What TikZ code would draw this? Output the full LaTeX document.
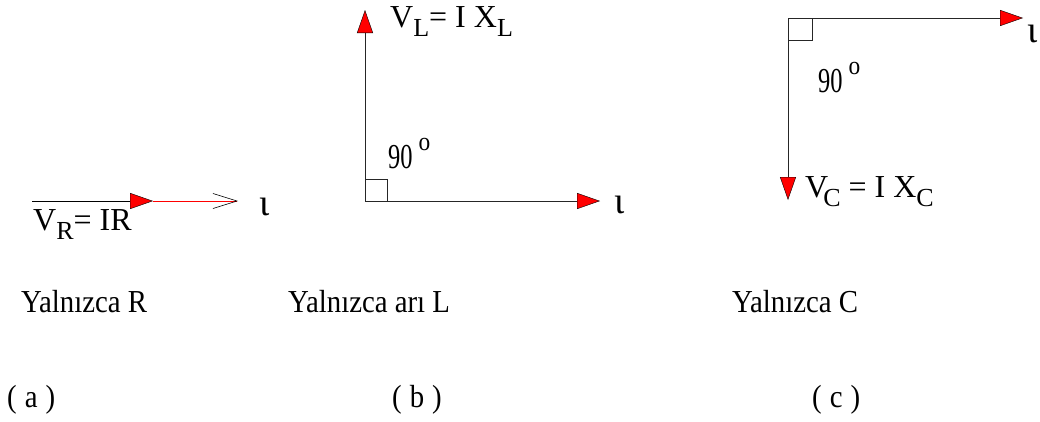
\documentclass[tikz,border=0pt]{standalone}
\usepackage{fontspec}
\setmainfont{Liberation Serif}
\newfontfamily\captionfont{Liberation Serif}[FakeStretch=0.9]
\newfontfamily\narrowfont{Liberation Serif}[FakeStretch=0.7]
\usepackage{tikz}
\usetikzlibrary{arrows.meta, positioning}
\newcommand{\lowsub}[1]{\raisebox{-9pt}{\fontsize{26}{26}\selectfont #1}}
\newcommand{\degsign}{\raisebox{18pt}{\captionfont\fontsize{26}{26}\selectfont o}}
\tikzset{
    % Text styles
    label text/.style={
        inner sep=0pt,
        anchor=base west,
        font=\captionfont\fontsize{32}{38}\selectfont
    },
    formula text/.style={
        inner sep=0pt,
        anchor=base west,
        font=\fontsize{32}{38}\selectfont
    },
    angle text/.style={
        inner sep=0pt,
        anchor=base west,
        font=\narrowfont\fontsize{35}{38}\selectfont
    },
    iota text/.style={
        inner sep=0pt,
        anchor=base west,
        font=\fontsize{38}{40}\selectfont
    },
    % Phasor arrows
    phasor/.style={
        -{Triangle[length=23pt,width=16pt,fill=red,color=black,line width=0.4pt]},
        line width=0.8pt,
        black!85
    },
    plain phasor/.style={
        -{Straight Barb[length=24pt,width=15pt,color=black,line width=0.6pt]},
        line width=0.6pt,
        red
    },
    right angle/.style={
        line width=0.6pt,
        black!85
    }
}
\begin{document}
\begin{tikzpicture}[x=1pt, y=-1pt]
        \useasboundingbox (0,0) rectangle (1040,421);

        % Only R
        \coordinate (aO) at (32,201);
        \coordinate (aM) at (153,201);
        \coordinate (aI) at (238,201);
        \draw[phasor, black] (aO) -- (aM);
        \draw[plain phasor] (aM) -- (aI);
        \node[formula text] (vR) at (33,230) {V\lowsub{R}= IR};
        \node[iota text] (iotaA) at (259,215) {ι};

        % Only L
        \coordinate (bO) at (365,201);
        \coordinate (bV) at (365,10);
        \coordinate (bI) at (600,201);
        \draw[right angle] (bO) rectangle +(22,-22);
        \draw[phasor] (bO) -- (bV);
        \draw[phasor] (bO) -- (bI);
        \node[formula text] (vL) at (390,27) {V\lowsub{L}= I X\lowsub{L}};
        \node[angle text] (angB) at (388,168) {90\hspace{6pt}\degsign};
        \node[iota text] (iotaB) at (614,213) {ι};

        % Only C
        \coordinate (cO) at (788,18);
        \coordinate (cI) at (1023,18);
        \coordinate (cV) at (788,200);
        \draw[right angle] (cO) rectangle +(24,22);
        \draw[phasor] (cO) -- (cI);
        \draw[phasor] (cO) -- (cV);
        \node[formula text] (vC) at (805,197) {V\kern-5pt\lowsub{C} = I X\lowsub{C}};
        \node[angle text] (angC) at (818,92) {90\hspace{6pt}\degsign};
        \node[iota text] (iotaC) at (1027,42) {ι};

        % Captions
        \node[label text] (capA) at (21,312) {Yalnızca R};
        \node[label text] (capB) at (288,312) {Yalnızca arı L};
        \node[label text] (capC) at (732,312) {Yalnızca C};
        \node[label text] (partA) at (7,407) {(\hspace{8pt}a\hspace{8pt})};
        \node[label text] (partB) at (392,407) {(\hspace{8pt}b\hspace{8pt})};
        \node[label text] (partC) at (812,407) {(\hspace{8pt}c\hspace{8pt})};
    \end{tikzpicture}
\end{document}
